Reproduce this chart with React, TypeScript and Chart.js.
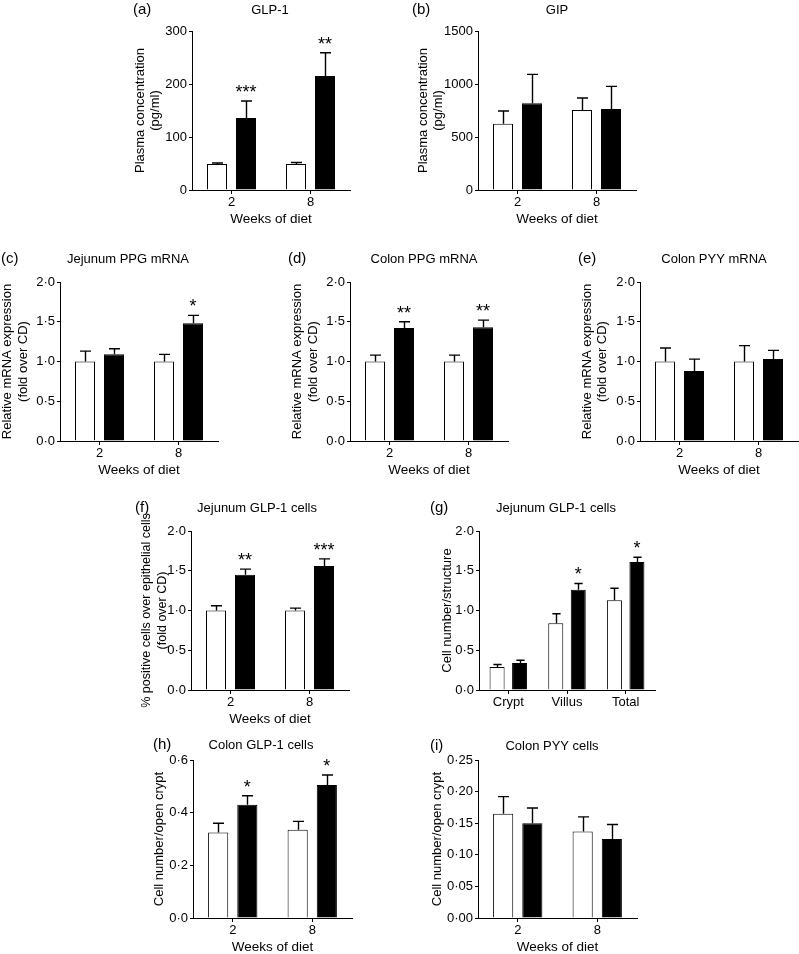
import React, { useEffect, useRef } from "react";
import { Chart, registerables } from "chart.js";

Chart.register(...registerables);

// ---------- data ----------
const weeks = ["2", "8"];
const sites = ["Crypt", "Villus", "Total"];

// (a) GLP-1 plasma (pg/ml)
const glp1CD = [49, 49];
const glp1CDErr = [2, 3];
const glp1HFD = [136, 215];
const glp1HFDErr = [32, 44];
const glp1Stars = ["***", "**"];

// (b) GIP plasma (pg/ml)
const gipCD = [625, 755];
const gipCDErr = [120, 113];
const gipHFD = [818, 765];
const gipHFDErr = [273, 213];
const gipStars = ["", ""];

// (c) Jejunum PPG mRNA
const jejPpgCD = [1.0, 1.0];
const jejPpgCDErr = [0.13, 0.09];
const jejPpgHFD = [1.09, 1.48];
const jejPpgHFDErr = [0.07, 0.1];
const jejPpgStars = ["", "*"];

// (d) Colon PPG mRNA
const colPpgCD = [1.0, 1.0];
const colPpgCDErr = [0.08, 0.08];
const colPpgHFD = [1.42, 1.43];
const colPpgHFDErr = [0.08, 0.09];
const colPpgStars = ["**", "**"];

// (e) Colon PYY mRNA
const colPyyCD = [1.0, 1.0];
const colPyyCDErr = [0.17, 0.2];
const colPyyHFD = [0.88, 1.03];
const colPyyHFDErr = [0.15, 0.11];
const colPyyStars = ["", ""];

// (f) Jejunum GLP-1 cells (fold over CD)
const jejCellsCD = [1.0, 1.0];
const jejCellsCDErr = [0.06, 0.03];
const jejCellsHFD = [1.45, 1.56];
const jejCellsHFDErr = [0.07, 0.09];
const jejCellsStars = ["**", "***"];

// (g) Jejunum GLP-1 cells per structure
const structCD = [0.29, 0.84, 1.13];
const structCDErr = [0.03, 0.12, 0.15];
const structHFD = [0.34, 1.26, 1.61];
const structHFDErr = [0.035, 0.08, 0.06];
const structStars = ["", "*", "*"];

// (h) Colon GLP-1 cells
const colGlpCD = [0.325, 0.335];
const colGlpCDErr = [0.035, 0.032];
const colGlpHFD = [0.43, 0.505];
const colGlpHFDErr = [0.034, 0.038];
const colGlpStars = ["*", "*"];

// (i) Colon PYY cells
const colPyyCellsCD = [0.165, 0.137];
const colPyyCellsCDErr = [0.027, 0.023];
const colPyyCellsHFD = [0.15, 0.125];
const colPyyCellsHFDErr = [0.024, 0.023];
const colPyyCellsStars = ["", ""];

// ---------- layout / style ----------
const W = 799;
const H = 954;
const FONT = "'Liberation Sans', Arial, Helvetica, sans-serif";
const Y_LH = 1.2;
const Y_HALF = (13 * Y_LH) / 2;

type PanelCfg = {
  key: string;
  letter: string;
  title: string;
  letterX: number;
  letterY: number;
  titleX: number;
  titleY: number;
  area: { l: number; t: number; r: number; b: number };
  yTitleOffset: number;
  labels: string[];
  cd: number[];
  cdErr: number[];
  hfd: number[];
  hfdErr: number[];
  stars: string[];
  yMax: number;
  yStep: number;
  decimals: number;
  yTitle: string[];
  yTitleSize: number;
  xTitle: string;
  catPct: number;
  barPct: number;
};

const panels: PanelCfg[] = [
  {
    key: "a", letter: "(a)", title: "GLP-1", letterX: 133, letterY: 10, titleX: 270, titleY: 10,
    area: { l: 192, t: 31, r: 350, b: 190 }, yTitleOffset: 52,
    labels: weeks, cd: glp1CD, cdErr: glp1CDErr, hfd: glp1HFD, hfdErr: glp1HFDErr, stars: glp1Stars,
    yMax: 300, yStep: 100, decimals: 0, yTitle: ["Plasma concentration", "(pg/ml)"], yTitleSize: 13, xTitle: "Weeks of diet",
    catPct: 0.734, barPct: 0.69,
  },
  {
    key: "b", letter: "(b)", title: "GIP", letterX: 412, letterY: 10, titleX: 557, titleY: 10,
    area: { l: 478, t: 31, r: 636, b: 190 }, yTitleOffset: 55,
    labels: weeks, cd: gipCD, cdErr: gipCDErr, hfd: gipHFD, hfdErr: gipHFDErr, stars: gipStars,
    yMax: 1500, yStep: 500, decimals: 0, yTitle: ["Plasma concentration", "(pg/ml)"], yTitleSize: 13, xTitle: "Weeks of diet",
    catPct: 0.734, barPct: 0.69,
  },
  {
    key: "c", letter: "(c)", title: "Jejunum PPG mRNA", letterX: 1, letterY: 259, titleX: 128, titleY: 259,
    area: { l: 60, t: 282, r: 218, b: 441 }, yTitleOffset: 52.5,
    labels: weeks, cd: jejPpgCD, cdErr: jejPpgCDErr, hfd: jejPpgHFD, hfdErr: jejPpgHFDErr, stars: jejPpgStars,
    yMax: 2, yStep: 0.5, decimals: 1, yTitle: ["Relative mRNA expression", "(fold over CD)"], yTitleSize: 13, xTitle: "Weeks of diet",
    catPct: 0.734, barPct: 0.69,
  },
  {
    key: "d", letter: "(d)", title: "Colon PPG mRNA", letterX: 288, letterY: 259, titleX: 424, titleY: 259,
    area: { l: 350, t: 282, r: 508, b: 441 }, yTitleOffset: 52.5,
    labels: weeks, cd: colPpgCD, cdErr: colPpgCDErr, hfd: colPpgHFD, hfdErr: colPpgHFDErr, stars: colPpgStars,
    yMax: 2, yStep: 0.5, decimals: 1, yTitle: ["Relative mRNA expression", "(fold over CD)"], yTitleSize: 13, xTitle: "Weeks of diet",
    catPct: 0.734, barPct: 0.69,
  },
  {
    key: "e", letter: "(e)", title: "Colon PYY mRNA", letterX: 578, letterY: 259, titleX: 714, titleY: 259,
    area: { l: 640, t: 282, r: 798, b: 441 }, yTitleOffset: 53,
    labels: weeks, cd: colPyyCD, cdErr: colPyyCDErr, hfd: colPyyHFD, hfdErr: colPyyHFDErr, stars: colPyyStars,
    yMax: 2, yStep: 0.5, decimals: 1, yTitle: ["Relative mRNA expression", "(fold over CD)"], yTitleSize: 13, xTitle: "Weeks of diet",
    catPct: 0.734, barPct: 0.69,
  },
  {
    key: "f", letter: "(f)", title: "Jejunum GLP-1 cells", letterX: 135, letterY: 508, titleX: 257, titleY: 508,
    area: { l: 191, t: 531, r: 349, b: 690 }, yTitleOffset: 44,
    labels: weeks, cd: jejCellsCD, cdErr: jejCellsCDErr, hfd: jejCellsHFD, hfdErr: jejCellsHFDErr, stars: jejCellsStars,
    yMax: 2, yStep: 0.5, decimals: 1, yTitle: ["% positive cells over epithelial cells", "(fold over CD)"], yTitleSize: 12.5, xTitle: "Weeks of diet",
    catPct: 0.734, barPct: 0.69,
  },
  {
    key: "g", letter: "(g)", title: "Jejunum GLP-1 cells", letterX: 430, letterY: 508, titleX: 556, titleY: 508,
    area: { l: 479, t: 531, r: 655, b: 690 }, yTitleOffset: 32,
    labels: sites, cd: structCD, cdErr: structCDErr, hfd: structHFD, hfdErr: structHFDErr, stars: structStars,
    yMax: 2, yStep: 0.5, decimals: 1, yTitle: ["Cell number/structure"], yTitleSize: 13, xTitle: "",
    catPct: 0.767, barPct: 0.667,
  },
  {
    key: "h", letter: "(h)", title: "Colon GLP-1 cells", letterX: 153, letterY: 745, titleX: 261, titleY: 745,
    area: { l: 193, t: 760, r: 352, b: 918 }, yTitleOffset: 33.5,
    labels: weeks, cd: colGlpCD, cdErr: colGlpCDErr, hfd: colGlpHFD, hfdErr: colGlpHFDErr, stars: colGlpStars,
    yMax: 0.6, yStep: 0.2, decimals: 1, yTitle: ["Cell number/open crypt"], yTitleSize: 13, xTitle: "Weeks of diet",
    catPct: 0.734, barPct: 0.69,
  },
  {
    key: "i", letter: "(i)", title: "Colon PYY cells", letterX: 430, letterY: 746, titleX: 552, titleY: 746,
    area: { l: 478, t: 760, r: 637, b: 918 }, yTitleOffset: 41,
    labels: weeks, cd: colPyyCellsCD, cdErr: colPyyCellsCDErr, hfd: colPyyCellsHFD, hfdErr: colPyyCellsHFDErr, stars: colPyyCellsStars,
    yMax: 0.25, yStep: 0.05, decimals: 2, yTitle: ["Cell number/open crypt"], yTitleSize: 13, xTitle: "Weeks of diet",
    catPct: 0.734, barPct: 0.69,
  },
];

// ---------- plugins ----------
const errorBarPlugin = {
  id: "errorBars",
  afterDatasetsDraw(chart: any) {
    const ctx = chart.ctx;
    const yScale = chart.scales.y;
    ctx.save();
    ctx.strokeStyle = "#000";
    ctx.fillStyle = "#000";
    ctx.lineWidth = 1.4;
    chart.data.datasets.forEach((ds: any, i: number) => {
      const meta = chart.getDatasetMeta(i);
      meta.data.forEach((bar: any, j: number) => {
        const v = ds.data[j];
        const e = ds.errors ? ds.errors[j] : 0;
        const top = yScale.getPixelForValue(v + e);
        const x = Math.round(bar.x) + 0.5;
        const cap = bar.width * 0.55;
        ctx.beginPath();
        ctx.moveTo(x, bar.y);
        ctx.lineTo(x, top);
        ctx.moveTo(x - cap / 2, top);
        ctx.lineTo(x + cap / 2, top);
        ctx.stroke();
        const s = ds.stars ? ds.stars[j] : "";
        if (s) {
          ctx.font = `18px ${FONT}`;
          ctx.textAlign = "center";
          ctx.textBaseline = "alphabetic";
          ctx.fillText(s, bar.x, top - 3);
        }
      });
    });
    ctx.restore();
  },
};

const panelTextPlugin = {
  id: "panelText",
  afterDraw(chart: any) {
    const cfg = chart.options.plugins.panelText;
    if (!cfg) return;
    const ctx = chart.ctx;
    ctx.save();
    ctx.fillStyle = "#000";
    ctx.textBaseline = "middle";
    ctx.font = `15px ${FONT}`;
    ctx.textAlign = "left";
    ctx.fillText(cfg.letter, cfg.letterX, cfg.letterY);
    ctx.font = `13px ${FONT}`;
    ctx.textAlign = "center";
    ctx.fillText(cfg.title, cfg.titleX, cfg.titleY);
    ctx.restore();
  },
};

const X_H = 37.5;

function Panel({ cfg }: { cfg: PanelCfg }) {
  const ref = useRef<HTMLCanvasElement | null>(null);
  useEffect(() => {
    if (!ref.current) return;
    const a = cfg.area;
    const tickFont = { family: FONT, size: 13, lineHeight: 1.15 };
    const xTitleFont = { family: FONT, size: 13.5, lineHeight: 1.15 };
    const yTitleFont = { family: FONT, size: cfg.yTitleSize, lineHeight: (13 * Y_LH) / cfg.yTitleSize };
    const yW = cfg.yTitleOffset + Y_HALF;
    const chart = new Chart(ref.current, {
      type: "bar",
      data: {
        labels: cfg.labels,
        datasets: [
          {
            label: "CD",
            data: cfg.cd,
            backgroundColor: "#ffffff",
            borderColor: "#000000",
            borderWidth: 1,
            errors: cfg.cdErr,
            stars: [],
          } as any,
          {
            label: "HFD",
            data: cfg.hfd,
            backgroundColor: "#000000",
            borderColor: "#000000",
            borderWidth: 1,
            errors: cfg.hfdErr,
            stars: cfg.stars,
          } as any,
        ],
      },
      options: {
        animation: false,
        responsive: false,
        devicePixelRatio: 1,
        events: [],
        layout: {
          padding: {
            left: a.l - yW,
            top: a.t,
            right: W - a.r,
            bottom: H - a.b - X_H,
          },
        },
        datasets: {
          bar: { categoryPercentage: cfg.catPct, barPercentage: cfg.barPct },
        },
        plugins: {
          legend: { display: false },
          tooltip: { enabled: false },
          title: { display: false },
          panelText: {
            letter: cfg.letter,
            title: cfg.title,
            letterX: cfg.letterX,
            letterY: cfg.letterY,
            titleX: cfg.titleX,
            titleY: cfg.titleY,
          },
        } as any,
        scales: {
          x: {
            type: "category",
            offset: true,
            grid: {
              display: true,
              drawOnChartArea: false,
              drawTicks: true,
              tickLength: 4,
              color: "#000",
              lineWidth: 1,
              offset: false,
            },
            border: { display: true, color: "#000", width: 1 },
            ticks: { color: "#000", font: tickFont, padding: 1, maxRotation: 0, autoSkip: false },
            title: {
              display: !!cfg.xTitle,
              text: cfg.xTitle,
              color: "#000",
              font: xTitleFont,
              padding: 0,
            },
            afterFit: (s: any) => {
              s.height = X_H;
            },
          },
          y: {
            min: 0,
            max: cfg.yMax,
            grid: {
              display: true,
              drawOnChartArea: false,
              drawTicks: true,
              tickLength: 3,
              color: "#000",
              lineWidth: 1,
            },
            border: { display: true, color: "#000", width: 1 },
            ticks: {
              stepSize: cfg.yStep,
              color: "#000",
              font: tickFont,
              padding: 2,
              callback: (v: any) => Number(v).toFixed(cfg.decimals).replace(".", "\u00b7"),
            },
            title: {
              display: true,
              text: cfg.yTitle,
              color: "#000",
              font: yTitleFont,
              padding: 0,
            },
            afterFit: (s: any) => {
              s.width = yW;
            },
          },
        },
      },
      plugins: [errorBarPlugin, panelTextPlugin],
    } as any);
    return () => chart.destroy();
  }, [cfg]);
  return (
    <canvas
      ref={ref}
      width={W}
      height={H}
      style={{ position: "absolute", left: 0, top: 0, width: W, height: H, display: "block" }}
    />
  );
}

export default function App() {
  return (
    <div style={{ position: "absolute", left: 0, top: 0, width: W, height: H, background: "#fff", overflow: "hidden" }}>
      {panels.map((p) => (
        <Panel key={p.key} cfg={p} />
      ))}
    </div>
  );
}
